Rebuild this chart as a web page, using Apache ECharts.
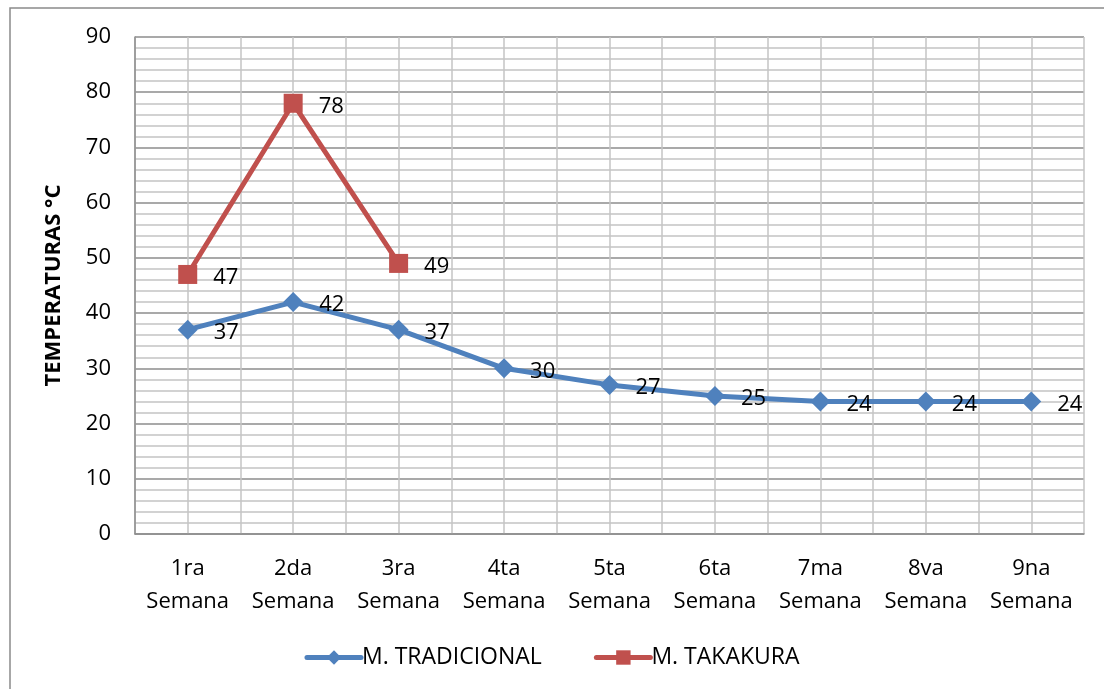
<!DOCTYPE html>
<html>
<head>
<meta charset="utf-8">
<script src="https://cdn.jsdelivr.net/npm/echarts@6/dist/echarts.min.js"></script>
<style>
  html, body { margin: 0; padding: 0; background: #fff; }
  #chart { width: 1104px; height: 689px; }
</style>
</head>
<body>
<div id="chart"></div>
<script>
// Weekly temperatures for the two composting methods
const weeks = ['1ra\nSemana', '2da\nSemana', '3ra\nSemana', '4ta\nSemana', '5ta\nSemana',
               '6ta\nSemana', '7ma\nSemana', '8va\nSemana', '9na\nSemana'];
const tradicional = [37, 42, 37, 30, 27, 25, 24, 24, 24];
const takakura = [47, 78, 49, null, null, null, null, null, null];
const yTicks = { min: 0, max: 90, step: 10 };

const FONT = '"Open Sans", "Noto Sans", sans-serif';
const BLUE = '#4F81BD';
const RED = '#C0504D';

const chart = echarts.init(document.getElementById('chart'), null, { renderer: 'canvas' });

chart.setOption({
  backgroundColor: '#ffffff',
  animation: false,
  textStyle: { fontFamily: FONT },
  graphic: [{
    type: 'rect',
    shape: { x: 10, y: 8, width: 1200, height: 800 },
    style: { fill: 'none', stroke: '#8a8a8a', lineWidth: 1.5 },
    silent: true,
    z: -10
  }],
  grid: { left: 135, right: 20, top: 37, bottom: 155, containLabel: false },
  legend: {
    bottom: 15,
    left: 'center',
    itemWidth: 54,
    itemHeight: 18,
    itemGap: 52,
    textStyle: { fontFamily: FONT, fontSize: 23, color: '#000', padding: [0, 0, 0, -4] },
    lineStyle: { width: 5, cap: 'round' },
    data: ['M. TRADICIONAL', 'M. TAKAKURA']
  },
  xAxis: [{
    type: 'category',
    data: weeks,
    boundaryGap: true,
    axisLine: { show: true, lineStyle: { color: '#8c8c8c', width: 1.5 } },
    axisTick: { show: false },
    splitLine: { show: false },
    axisLabel: {
      color: '#000', fontFamily: FONT, fontSize: 22, lineHeight: 33,
      margin: 18, interval: 0
    }
  }, {
    // helper axis for the vertical grid lines at category centres and borders
    type: 'value',
    min: 0, max: weeks.length * 2, interval: 1,
    position: 'top',
    axisLine: { show: false }, axisTick: { show: false }, axisLabel: { show: false },
    splitLine: { show: true, lineStyle: { color: '#c4c4c4', width: 1.5 } }
  }],
  yAxis: {
    type: 'value',
    min: yTicks.min, max: yTicks.max, interval: yTicks.step,
    name: 'TEMPERATURAS °C',
    nameLocation: 'middle',
    nameGap: 70,
    nameRotate: 90,
    nameTextStyle: { fontFamily: FONT, fontSize: 22, fontWeight: 'bold', color: '#000' },
    axisLine: { show: true, lineStyle: { color: '#8c8c8c', width: 1.5 } },
    axisTick: { show: false },
    axisLabel: { color: '#000', fontFamily: FONT, fontSize: 22, margin: 24 },
    splitLine: { show: true, lineStyle: { color: '#8c8c8c', width: 1.5 } },
    minorTick: { show: false, splitNumber: 5 },
    minorSplitLine: { show: true, lineStyle: { color: '#c4c4c4', width: 1.5 } }
  },
  series: [{
    name: 'M. TRADICIONAL',
    type: 'line',
    data: tradicional,
    color: BLUE,
    symbol: 'diamond',
    symbolSize: 20,
    lineStyle: { width: 5, color: BLUE },
    itemStyle: { color: BLUE },
    label: {
      show: true, position: 'right', distance: 16, offset: [0, 3],
      color: '#000', fontFamily: FONT, fontSize: 22
    },
    z: 3
  }, {
    name: 'M. TAKAKURA',
    type: 'line',
    data: takakura,
    color: RED,
    symbol: 'rect',
    symbolSize: 19,
    lineStyle: { width: 5, color: RED },
    itemStyle: { color: RED },
    label: {
      show: true, position: 'right', distance: 16, offset: [0, 3],
      color: '#000', fontFamily: FONT, fontSize: 22
    },
    z: 4
  }]
});
</script>
</body>
</html>
